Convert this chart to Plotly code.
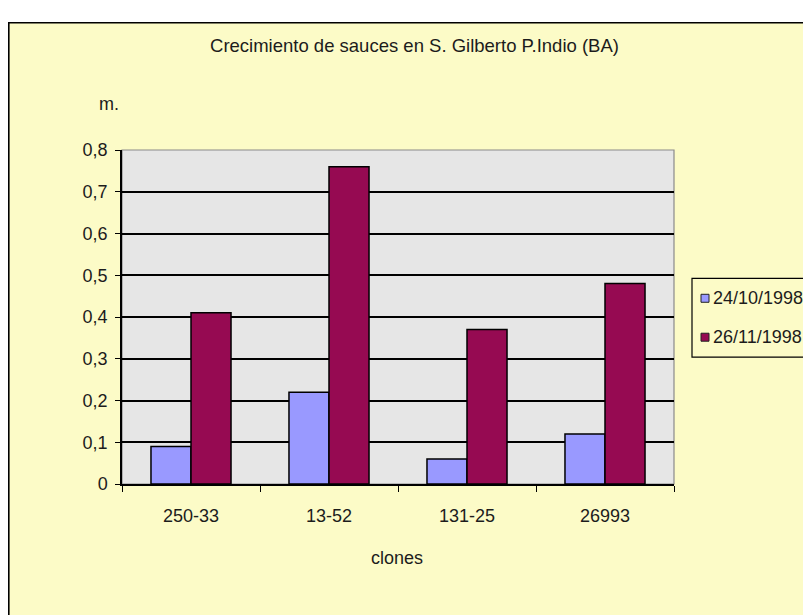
import plotly.graph_objects as go

categories = ["250-33", "13-52", "131-25", "26993"]
series_names = ["24/10/1998", "26/11/1998"]
values_oct = [0.09, 0.22, 0.06, 0.12]
values_nov = [0.41, 0.76, 0.37, 0.48]
y_ticks = [0, 0.1, 0.2, 0.3, 0.4, 0.5, 0.6, 0.7, 0.8]
series_colors = ["#9999ff", "#960a52"]

# page is offset by the 8px body margin
OFF = 8
W, H = 811 - OFF, 615 - OFF
# plot area in page pixels
L, R, T, B = 122, 674, 149.5, 484
pw, ph = R - L, B - T


def px(x):
    return (x - L) / pw


def py(y):
    return (B - y) / ph


FONT = "Liberation Sans, Arial, sans-serif"
TXT = "#1c1c1c"
YELLOW = "#fcfbc7"
GRAY = "#e6e6e6"

fig = go.Figure()
for name, vals, col in zip(series_names, [values_oct, values_nov], series_colors):
    fig.add_trace(go.Bar(x=categories, y=vals, name=name, showlegend=False,
                         marker=dict(color=col, line=dict(color="black", width=1.5))))

shapes = [
    dict(type="rect", xref="paper", yref="paper", layer="below",
         x0=px(8.8), x1=px(840), y0=py(650), y1=py(22),
         fillcolor=YELLOW, line=dict(color="black", width=1.6)),
    dict(type="rect", xref="paper", yref="paper", layer="below",
         x0=0, x1=1, y0=0, y1=1,
         fillcolor=GRAY, line=dict(color="#8a8a8a", width=1.2)),
    # legend box
    dict(type="rect", xref="paper", yref="paper", layer="above",
         x0=px(692), x1=px(840), y0=py(357), y1=py(278),
         fillcolor=YELLOW, line=dict(color="black", width=1.2)),
]
annotations = [
    dict(text="m.", xref="paper", yref="paper", x=px(109), y=py(103),
         xanchor="center", yanchor="middle", showarrow=False,
         font=dict(family=FONT, size=18, color=TXT)),
    dict(text="clones", xref="paper", yref="paper", x=px(397), y=py(558),
         xanchor="center", yanchor="middle", showarrow=False,
         font=dict(family=FONT, size=18, color=TXT)),
]
legend_y = [298, 337]
for name, col, yc in zip(series_names, series_colors, legend_y):
    shapes.append(dict(type="rect", xref="paper", yref="paper", layer="above",
                       x0=px(701), x1=px(709), y0=py(yc + 4), y1=py(yc - 4),
                       fillcolor=col, line=dict(color="#222222", width=1)))
    annotations.append(dict(text=name, xref="paper", yref="paper",
                            x=px(711), y=py(yc), xanchor="left", yanchor="middle",
                            showarrow=False,
                            font=dict(family=FONT, size=18, color=TXT)))

fig.update_layout(
    width=W, height=H,
    margin=dict(l=L - OFF, r=W - (R - OFF), t=T - OFF, b=H - (B - OFF), pad=0,
                autoexpand=False),
    paper_bgcolor="white",
    plot_bgcolor=GRAY,
    separators=",.",
    barmode="group",
    bargap=0.42,
    bargroupgap=0,
    font=dict(family=FONT, size=18, color=TXT),
    title=dict(text="Crecimiento de sauces en S. Gilberto P.Indio (BA)",
               xref="container", yref="container",
               x=(414.5 - OFF) / W, xanchor="center",
               y=1 - (45.5 - OFF) / H, yanchor="middle",
               font=dict(family=FONT, size=18.5, color=TXT)),
    showlegend=False,
    shapes=shapes,
    annotations=annotations,
)

fig.update_xaxes(
    showline=True, linecolor="black", linewidth=1.5,
    ticks="outside", tickson="boundaries", ticklen=6, tickcolor="black", tickwidth=1.2,
    showgrid=False,
    ticklabelstandoff=15,
    tickfont=dict(family=FONT, size=18, color=TXT),
)
fig.update_yaxes(
    range=[0, 0.8], tickvals=y_ticks, tickformat=".1~f",
    showline=True, linecolor="black", linewidth=1.5,
    ticks="outside", ticklen=5, tickcolor="black", tickwidth=1.2,
    showgrid=True, gridcolor="black", gridwidth=1.6,
    zeroline=False,
    ticklabelstandoff=4,
    tickfont=dict(family=FONT, size=18, color=TXT),
)

fig.write_html("out.html")
